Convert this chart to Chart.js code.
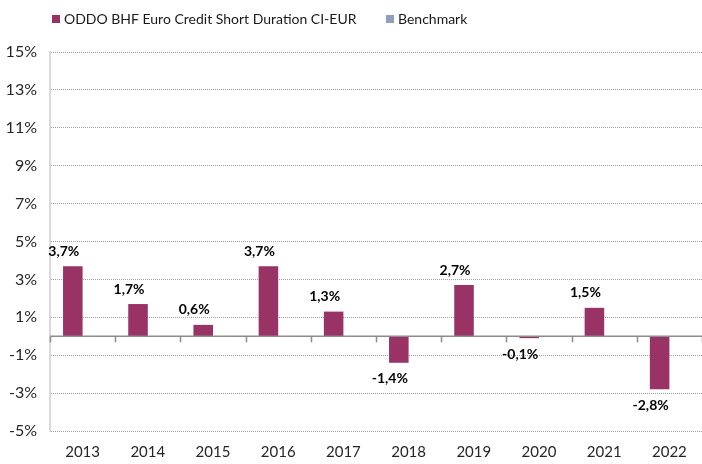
<!DOCTYPE html>
<html>
<head>
<meta charset="utf-8">
<script src="https://cdn.jsdelivr.net/npm/chart.js@4"></script>
<style>
    html, body { margin: 0; padding: 0; background: #fff; overflow: hidden; }
    canvas { display: block; }
</style>
</head>
<body>
<canvas id="chart" width="702" height="464"></canvas>
<script>
var years = ['2013', '2014', '2015', '2016', '2017', '2018', '2019', '2020', '2021', '2022'];
var fundValues = [3.7, 1.7, 0.6, 3.7, 1.3, -1.4, 2.7, -0.1, 1.5, -2.8];
var benchmarkValues = [null, null, null, null, null, null, null, null, null, null];
var seriesNames = ['ODDO BHF Euro Credit Short Duration CI-EUR', 'Benchmark'];
var seriesColors = ['#993366', '#8EA0BA'];
var legendX = [52, 386];

function pct(v) {
    return v.toFixed(1).replace('.', ',') + '%';
}

// legend, zero line and value labels drawn on top of the chart
var extras = {
    id: 'extras',
    afterDatasetsDraw: function(chart) {
        var ctx = chart.ctx;
        var area = chart.chartArea;
        var y = chart.scales.y;
        var zero = y.getPixelForValue(0);
        ctx.save();

        // zero line with category separators
        ctx.strokeStyle = '#8c8c8c';
        ctx.lineWidth = 1.5;
        ctx.beginPath();
        ctx.moveTo(area.left, zero);
        ctx.lineTo(area.right, zero);
        var step = (area.right - area.left) / years.length;
        for (var i = 0; i <= years.length; i++) {
            var tx = Math.round(area.left + step * i) + 0.5;
            ctx.moveTo(tx, zero);
            ctx.lineTo(tx, zero + 6);
        }
        ctx.stroke();

        // value labels
        ctx.font = 'bold 14px Lato';
        ctx.fillStyle = '#000';
        ctx.textAlign = 'center';
        var meta = chart.getDatasetMeta(0);
        meta.data.forEach(function(bar, i) {
            var v = fundValues[i];
            if (v >= 0) {
                ctx.textBaseline = 'bottom';
                ctx.fillText(pct(v), bar.x - 9, bar.y - 8);
            } else {
                ctx.textBaseline = 'top';
                ctx.fillText(pct(v), bar.x - 9, bar.y + 9);
            }
        });

        // legend
        ctx.font = '14px Lato';
        ctx.textAlign = 'left';
        ctx.textBaseline = 'middle';
        seriesNames.forEach(function(name, i) {
            ctx.fillStyle = seriesColors[i];
            ctx.fillRect(legendX[i], 15, 8, 8);
            ctx.fillStyle = '#1a1a1a';
            ctx.fillText(name, legendX[i] + 12, 19);
        });
        ctx.restore();
    }
};

new Chart(document.getElementById('chart'), {
    type: 'bar',
    data: {
        labels: years,
        datasets: [{
            label: seriesNames[0],
            data: fundValues,
            backgroundColor: seriesColors[0],
            categoryPercentage: 0.6,
            barPercentage: 1.0
        }, {
            label: seriesNames[1],
            data: benchmarkValues,
            backgroundColor: seriesColors[1],
            categoryPercentage: 0.6,
            barPercentage: 1.0
        }]
    },
    plugins: [extras],
    options: {
        responsive: false,
        animation: false,
        layout: { padding: { top: 52, right: -4, bottom: 0, left: 0 } },
        plugins: {
            legend: { display: false },
            tooltip: { enabled: false }
        },
        scales: {
            x: {
                grid: { display: false, drawTicks: false },
                border: { display: false },
                afterFit: function(scale) { scale.height = 33; },
                ticks: {
                    padding: 12,
                    maxRotation: 0,
                    color: '#262626',
                    font: { family: 'Lato', size: 15 }
                }
            },
            y: {
                min: -5,
                max: 15,
                afterFit: function(scale) { scale.width = 50; },
                afterBuildTicks: function(scale) {
                    var t = [];
                    for (var v = -5; v <= 15; v += 2) t.push({ value: v });
                    scale.ticks = t;
                },
                grid: {
                    drawTicks: false,
                    color: '#a0a0a0',
                    lineWidth: 1
                },
                border: { color: '#d9d9d9', width: 2, dash: [1, 1] },
                ticks: {
                    padding: 13,
                    color: '#262626',
                    font: { family: 'Lato', size: 16 },
                    callback: function(v) { return v + '%'; }
                }
            }
        }
    }
});
</script>
</body>
</html>
